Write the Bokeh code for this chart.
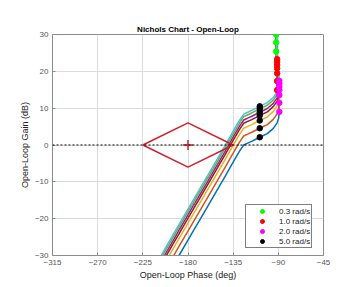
from bokeh.plotting import figure
from bokeh.models import FixedTicker, Legend, LegendItem, ColumnDataSource, Span
from bokeh.embed import file_html
from bokeh.resources import INLINE

# ---- data ----
x_ticks = [-315, -270, -225, -180, -135, -90, -45]
y_ticks = [-30, -20, -10, 0, 10, 20, 30]

# base (lowest gain) open-loop curve, phase (deg) and gain (dB), low -> high frequency
base_phase = [-92.5, -92.2, -91.2, -89.0, -89.6, -91.2, -95.0, -101.0, -108.5,
              -112.5, -116.5, -120.5, -124.5, -128.5, -133.0, -138.0, -143.0,
              -150.0, -163.0, -176.0, -189.0, -196.0, -203.0, -210.0]
base_gain = [38.0, 25.4, 14.9, 9.0, 7.4, 6.0, 4.5, 3.1, 2.1,
             1.55, 1.0, 0.5, 0.0, -1.6, -3.7, -6.1, -8.5,
             -11.8, -17.9, -23.9, -30.0, -33.3, -36.6, -40.0]

# gain offsets (dB) of each curve relative to the base curve
gain_offsets = [0.0, 2.45, 4.55, 5.9, 6.8, 7.7, 8.4]
curve_colors = ["#0072BD", "#D95319", "#EDB120", "#A2142F", "#7E2F8E", "#77AC30", "#4DBEEE"]

# frequency markers on the base curve
freq_labels = ["0.3 rad/s", "1.0 rad/s", "2.0 rad/s", "5.0 rad/s"]
freq_phase = [-92.2, -91.2, -89.0, -108.5]
freq_gain = [25.4, 14.9, 9.0, 2.1]
freq_colors = ["#00FF00", "#FF0000", "#FF00FF", "#000000"]

# stability margin diamond around critical point
diamond_phase = [-225, -180, -135, -180, -225]
diamond_gain = [0, 6, 0, -6, 0]
crit_phase = [-180]
crit_gain = [0]

# ---- figure ----
p = figure(width=359, height=287, x_range=(-315, -45), y_range=(-30, 30),
           output_backend="svg", toolbar_location=None,
           min_border_left=52, min_border_right=36, min_border_top=34, min_border_bottom=32,
           title="Nichols Chart - Open-Loop")
p.background_fill_color = "white"
p.border_fill_color = "white"
p.outline_line_color = "#8c8c8c"
p.outline_line_width = 1

p.title.align = "center"
p.title.text_font = "Liberation Sans"
p.title.text_font_size = "8px"
p.title.text_font_style = "bold"
p.title.text_color = "#000000"
p.title.standoff = 1
p.title.offset = 0

p.xgrid.ticker = FixedTicker(ticks=x_ticks)
p.ygrid.ticker = FixedTicker(ticks=y_ticks)
p.xgrid.grid_line_color = "#dcdcdc"
p.ygrid.grid_line_color = "#dcdcdc"

for ax in (p.xaxis[0], p.yaxis[0]):
    ax.axis_line_color = "#8c8c8c"
    ax.major_tick_line_color = "#8c8c8c"
    ax.major_tick_in = 3
    ax.major_tick_out = 0
    ax.minor_tick_line_color = None
    ax.major_label_text_font = "Liberation Sans"
    ax.major_label_text_color = "#555555"
    ax.major_label_text_font_size = "8px"
    ax.axis_label_text_font = "Liberation Sans"
    ax.axis_label_text_font_size = "9px"
    ax.axis_label_text_font_style = "normal"
    ax.axis_label_text_color = "#222222"
    ax.major_label_standoff = 4
    ax.axis_label_standoff = 2

p.xaxis.ticker = FixedTicker(ticks=x_ticks)
p.yaxis.ticker = FixedTicker(ticks=y_ticks)
p.xaxis.axis_label = "Open-Loop Phase (deg)"
p.yaxis.axis_label = "Open-Loop Gain (dB)"

# 0 dB dotted line
p.add_layout(Span(location=0, dimension="width", line_color="#000000",
                  line_dash="2 2", line_width=1))

# curves
for off, col in zip(gain_offsets, curve_colors):
    p.line(base_phase, [g + off for g in base_gain], line_color=col, line_width=1.5)

# diamond and critical point
p.line(diamond_phase, diamond_gain, line_color="#D01F28", line_width=1.5)
p.scatter(crit_phase, crit_gain, marker="cross", size=10, line_color="#D01F28", line_width=1.5)

# frequency markers
items = []
for lab, ph, g, col in zip(freq_labels, freq_phase, freq_gain, freq_colors):
    src = ColumnDataSource(dict(x=[ph] * len(gain_offsets), y=[g + off for off in gain_offsets]))
    r = p.scatter("x", "y", source=src, marker="circle", size=5.5,
                  fill_color=col, line_color=col)
    items.append(LegendItem(label=lab, renderers=[r]))

legend = Legend(items=items, location=(193, 7))
legend.label_text_font = "Liberation Sans"
legend.label_text_font_size = "8px"
legend.label_text_color = "#222222"
legend.border_line_color = "#000000"
legend.border_line_width = 1
legend.background_fill_color = "white"
legend.background_fill_alpha = 1
legend.glyph_width = 30
legend.glyph_height = 10
legend.label_height = 10
legend.spacing = 0
legend.padding = 1
legend.margin = 0
legend.label_standoff = 2
p.add_layout(legend)

open("out.html", "w").write(file_html(p, INLINE))
